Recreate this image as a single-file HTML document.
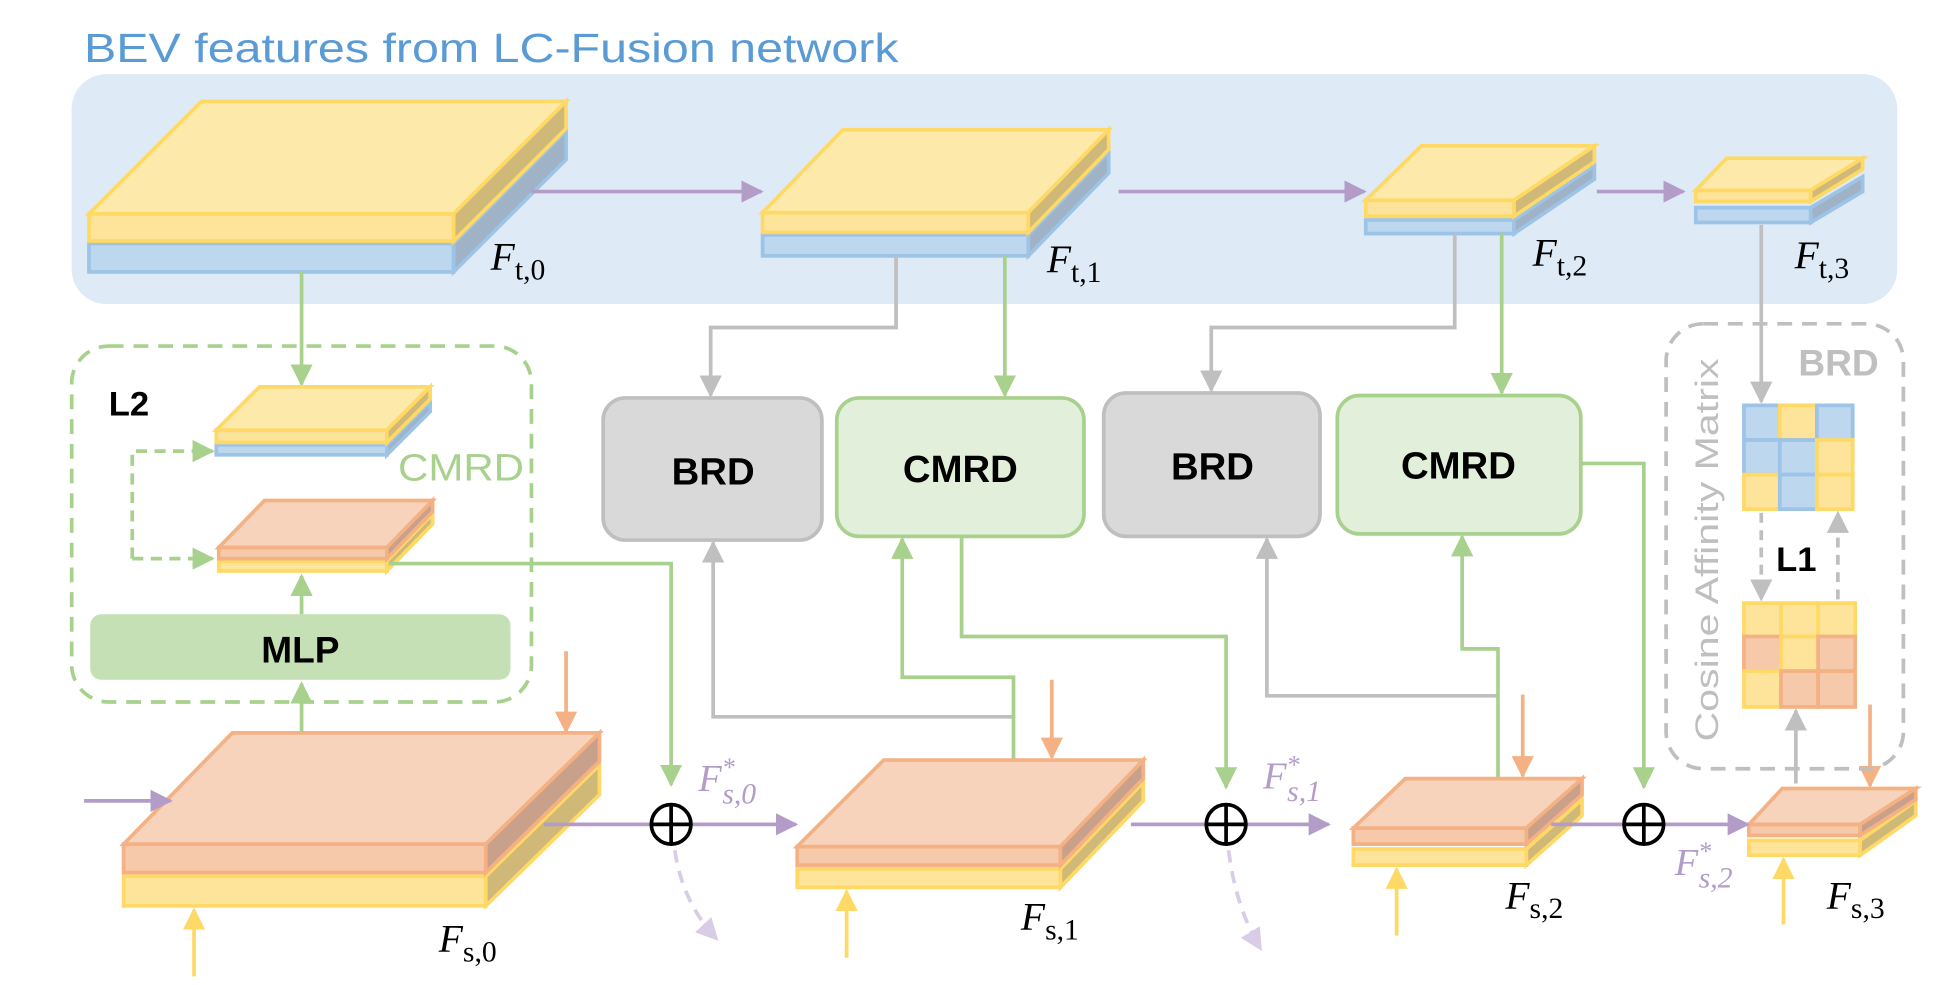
<!DOCTYPE html>
<html><head><meta charset="utf-8"><style>
html,body{margin:0;padding:0;background:#fff;width:1938px;height:985px;overflow:hidden}
svg{display:block}
.t{font-family:"Liberation Sans",sans-serif}
.s{font-family:"Liberation Serif",serif}
</style></head><body>
<svg width="1938" height="985" viewBox="0 0 1568 797" preserveAspectRatio="none" xmlns="http://www.w3.org/2000/svg">
<defs>
<marker id="ap" viewBox="0 0 10 10" refX="9" refY="5" markerWidth="6" markerHeight="6" orient="auto"><path d="M0,0L10,5L0,10z" fill="#b39dc8"/></marker>
<marker id="ag" viewBox="0 0 10 10" refX="9" refY="5" markerWidth="6" markerHeight="6" orient="auto"><path d="M0,0L10,5L0,10z" fill="#a9d18e"/></marker>
<marker id="ay" viewBox="0 0 10 10" refX="9" refY="5" markerWidth="6" markerHeight="6" orient="auto"><path d="M0,0L10,5L0,10z" fill="#ffd966"/></marker>
<marker id="ao" viewBox="0 0 10 10" refX="9" refY="5" markerWidth="6" markerHeight="6" orient="auto"><path d="M0,0L10,5L0,10z" fill="#f4b183"/></marker>
<marker id="ak" viewBox="0 0 10 10" refX="9" refY="5" markerWidth="6" markerHeight="6" orient="auto"><path d="M0,0L10,5L0,10z" fill="#bfbfbf"/></marker>
<marker id="al" viewBox="0 0 10 10" refX="9" refY="5" markerWidth="6" markerHeight="6" orient="auto"><path d="M0,0L10,5L0,10z" fill="#d9cce6"/></marker>
</defs>

<text x="68" y="50" class="t" font-size="33" fill="#5b9bd5" textLength="659" lengthAdjust="spacingAndGlyphs">BEV features from LC-Fusion network</text>
<rect x="58" y="60" width="1477" height="186" rx="28" fill="#deeaf6"/>

<g stroke-width="3" stroke-linejoin="miter">
<rect x="72" y="197" width="295" height="23" fill="#bdd7ee" stroke="#9dc3e6"/>
<polygon points="367,197 458,106 458,129 367,220" fill="#9fb2c6" stroke="#9dc3e6"/>
<rect x="72" y="173" width="295" height="22" fill="#fde49a" stroke="#ffd966"/>
<polygon points="72,173 163,82 458,82 367,173" fill="#fde9a9" stroke="#ffd966"/>
<polygon points="367,173 458,82 458,104 367,195" fill="#cfb878" stroke="#ffd966"/>
<rect x="617" y="190" width="215" height="17" fill="#bdd7ee" stroke="#9dc3e6"/>
<polygon points="832,190 897,123 897,140 832,207" fill="#9fb2c6" stroke="#9dc3e6"/>
<rect x="617" y="172" width="215" height="16" fill="#fde49a" stroke="#ffd966"/>
<polygon points="617,172 682,105 897,105 832,172" fill="#fde9a9" stroke="#ffd966"/>
<polygon points="832,172 897,105 897,121 832,188" fill="#cfb878" stroke="#ffd966"/>
<rect x="1105" y="178" width="120" height="11" fill="#bdd7ee" stroke="#9dc3e6"/>
<polygon points="1225,178 1290,134 1290,145 1225,189" fill="#9fb2c6" stroke="#9dc3e6"/>
<rect x="1105" y="162" width="120" height="13" fill="#fde49a" stroke="#ffd966"/>
<polygon points="1105,162 1150,118 1290,118 1225,162" fill="#fde9a9" stroke="#ffd966"/>
<polygon points="1225,162 1290,118 1290,131 1225,175" fill="#cfb878" stroke="#ffd966"/>
<rect x="1372" y="168" width="93" height="12" fill="#bdd7ee" stroke="#9dc3e6"/>
<polygon points="1465,168 1507,143 1507,155 1465,180" fill="#9fb2c6" stroke="#9dc3e6"/>
<rect x="1372" y="154" width="93" height="9" fill="#fde49a" stroke="#ffd966"/>
<polygon points="1372,154 1397,128 1507,128 1465,154" fill="#fde9a9" stroke="#ffd966"/>
<polygon points="1465,154 1507,128 1507,137 1465,163" fill="#cfb878" stroke="#ffd966"/>
</g>

<g class="s" font-style="italic" font-size="32" fill="#000">
<text x="397" y="218">F<tspan font-style="normal" font-size="24" dy="8">t,0</tspan></text>
<text x="847" y="220">F<tspan font-style="normal" font-size="24" dy="8">t,1</tspan></text>
<text x="1240" y="215">F<tspan font-style="normal" font-size="24" dy="8">t,2</tspan></text>
<text x="1452" y="217">F<tspan font-style="normal" font-size="24" dy="8">t,3</tspan></text>
</g>

<g stroke="#b39dc8" stroke-width="3" fill="none" marker-end="url(#ap)">
<line x1="430" y1="155" x2="616" y2="155"/>
<line x1="905" y1="155" x2="1104" y2="155"/>
<line x1="1292" y1="155" x2="1362" y2="155"/>
</g>

<rect x="58" y="280" width="372" height="288" rx="30" fill="none" stroke="#a9d18e" stroke-width="3" stroke-dasharray="12,8"/>
<text x="88" y="336" class="t" font-weight="bold" font-size="28">L2</text>
<line x1="244" y1="220" x2="244" y2="311" stroke="#a9d18e" stroke-width="3" marker-end="url(#ag)"/>
<g stroke-width="3">
<rect x="175" y="360" width="138" height="8" fill="#bdd7ee" stroke="#9dc3e6"/>
<polygon points="313,360 348,325 348,333 313,368" fill="#9fb2c6" stroke="#9dc3e6"/>
<rect x="175" y="348" width="138" height="10" fill="#fde49a" stroke="#ffd966"/>
<polygon points="175,348 210,313 348,313 313,348" fill="#fde9a9" stroke="#ffd966"/>
<polygon points="313,348 348,313 348,323 313,358" fill="#cfb878" stroke="#ffd966"/>
<rect x="177" y="454" width="136" height="8" fill="#fde49a" stroke="#ffd966"/>
<polygon points="313,454 350,416 350,424 313,462" fill="#cfb878" stroke="#ffd966"/>
<rect x="177" y="443" width="136" height="9" fill="#f6c9aa" stroke="#f4b183"/>
<polygon points="177,443 214,405 350,405 313,443" fill="#f8d3bb" stroke="#f4b183"/>
<polygon points="313,443 350,405 350,414 313,452" fill="#c9a08a" stroke="#f4b183"/>
</g>
<text x="322" y="389" class="t" font-size="31" fill="#a9d18e" textLength="102" lengthAdjust="spacingAndGlyphs">CMRD</text>
<path d="M107,452 L107,365 L172,365" fill="none" stroke="#a9d18e" stroke-width="3" stroke-dasharray="9,6" marker-end="url(#ag)"/>
<line x1="107" y1="452" x2="172" y2="452" stroke="#a9d18e" stroke-width="3" stroke-dasharray="9,6" marker-end="url(#ag)"/>
<rect x="73" y="497" width="340" height="53" rx="9" fill="#c5e0b4"/>
<text x="243" y="536" class="t" font-weight="bold" font-size="30" text-anchor="middle">MLP</text>
<line x1="244" y1="497" x2="244" y2="466" stroke="#a9d18e" stroke-width="3" marker-end="url(#ag)"/>
<line x1="244" y1="592" x2="244" y2="553" stroke="#a9d18e" stroke-width="3" marker-end="url(#ag)"/>
<path d="M315,456 L543,456 L543,635" fill="none" stroke="#a9d18e" stroke-width="3" marker-end="url(#ag)"/>

<rect x="488" y="322" width="177" height="115" rx="18" fill="#d9d9d9" stroke="#bfbfbf" stroke-width="3"/>
<text x="577" y="392" class="t" font-weight="bold" font-size="31" text-anchor="middle">BRD</text>
<rect x="677" y="322" width="200" height="112" rx="18" fill="#e2efda" stroke="#a9d18e" stroke-width="3"/>
<text x="777" y="390" class="t" font-weight="bold" font-size="31" text-anchor="middle">CMRD</text>
<rect x="893" y="318" width="175" height="116" rx="18" fill="#d9d9d9" stroke="#bfbfbf" stroke-width="3"/>
<text x="981" y="388" class="t" font-weight="bold" font-size="31" text-anchor="middle">BRD</text>
<rect x="1082" y="320" width="197" height="112" rx="18" fill="#e2efda" stroke="#a9d18e" stroke-width="3"/>
<text x="1180" y="387" class="t" font-weight="bold" font-size="31" text-anchor="middle">CMRD</text>

<g fill="none" stroke-width="3">
<path d="M725,207 L725,265 L575,265 L575,320" stroke="#bfbfbf" marker-end="url(#ak)"/>
<line x1="813" y1="207" x2="813" y2="320" stroke="#a9d18e" marker-end="url(#ag)"/>
<path d="M1177,189 L1177,265 L980,265 L980,316" stroke="#bfbfbf" marker-end="url(#ak)"/>
<line x1="1215" y1="189" x2="1215" y2="318" stroke="#a9d18e" marker-end="url(#ag)"/>
<path d="M820,580 L577,580 L577,439" stroke="#bfbfbf" marker-end="url(#ak)"/>
<path d="M820,615 L820,548 L730,548 L730,436" stroke="#a9d18e" marker-end="url(#ag)"/>
<path d="M778,434 L778,515 L992,515 L992,637" stroke="#a9d18e" marker-end="url(#ag)"/>
<path d="M1212,563 L1025,563 L1025,436" stroke="#bfbfbf" marker-end="url(#ak)"/>
<path d="M1212,630 L1212,525 L1183,525 L1183,434" stroke="#a9d18e" marker-end="url(#ag)"/>
<path d="M1279,375 L1330,375 L1330,637" stroke="#a9d18e" marker-end="url(#ag)"/>
</g>

<g stroke-width="3">
<rect x="100" y="709" width="293" height="24" fill="#fde49a" stroke="#ffd966"/>
<polygon points="393,709 485,619 485,643 393,733" fill="#cfb878" stroke="#ffd966"/>
<rect x="100" y="683" width="293" height="23" fill="#f6c9aa" stroke="#f4b183"/>
<polygon points="100,683 188,593 485,593 393,683" fill="#f8d3bb" stroke="#f4b183"/>
<polygon points="393,683 485,593 485,616 393,706" fill="#c9a08a" stroke="#f4b183"/>
<rect x="645" y="703" width="213" height="15" fill="#fde49a" stroke="#ffd966"/>
<polygon points="858,703 925,633 925,648 858,718" fill="#cfb878" stroke="#ffd966"/>
<rect x="645" y="685" width="213" height="15" fill="#f6c9aa" stroke="#f4b183"/>
<polygon points="645,685 715,615 925,615 858,685" fill="#f8d3bb" stroke="#f4b183"/>
<polygon points="858,685 925,615 925,630 858,700" fill="#c9a08a" stroke="#f4b183"/>
<rect x="1095" y="687" width="140" height="13" fill="#fde49a" stroke="#ffd966"/>
<polygon points="1235,687 1280,647 1280,660 1235,700" fill="#cfb878" stroke="#ffd966"/>
<rect x="1095" y="670" width="140" height="13" fill="#f6c9aa" stroke="#f4b183"/>
<polygon points="1095,670 1137,630 1280,630 1235,670" fill="#f8d3bb" stroke="#f4b183"/>
<polygon points="1235,670 1280,630 1280,643 1235,683" fill="#c9a08a" stroke="#f4b183"/>
<rect x="1415" y="680" width="90" height="12" fill="#fde49a" stroke="#ffd966"/>
<polygon points="1505,680 1550,648 1550,660 1505,692" fill="#cfb878" stroke="#ffd966"/>
<rect x="1415" y="667" width="90" height="9" fill="#f6c9aa" stroke="#f4b183"/>
<polygon points="1415,667 1442,638 1550,638 1505,667" fill="#f8d3bb" stroke="#f4b183"/>
<polygon points="1505,667 1550,638 1550,647 1505,676" fill="#c9a08a" stroke="#f4b183"/>
</g>

<g stroke-width="3" fill="none">
<line x1="68" y1="648" x2="138" y2="648" stroke="#b39dc8" marker-end="url(#ap)"/>
<line x1="440" y1="667" x2="526" y2="667" stroke="#b39dc8"/>
<line x1="560" y1="667" x2="644" y2="667" stroke="#b39dc8" marker-end="url(#ap)"/>
<line x1="915" y1="667" x2="975" y2="667" stroke="#b39dc8"/>
<line x1="1009" y1="667" x2="1075" y2="667" stroke="#b39dc8" marker-end="url(#ap)"/>
<line x1="1255" y1="667" x2="1313" y2="667" stroke="#b39dc8"/>
<line x1="1347" y1="667" x2="1414" y2="667" stroke="#b39dc8" marker-end="url(#ap)"/>
<line x1="458" y1="527" x2="458" y2="592" stroke="#f4b183" marker-end="url(#ao)"/>
<line x1="851" y1="550" x2="851" y2="613" stroke="#f4b183" marker-end="url(#ao)"/>
<line x1="1232" y1="562" x2="1232" y2="628" stroke="#f4b183" marker-end="url(#ao)"/>
<line x1="1513" y1="570" x2="1513" y2="636" stroke="#f4b183" marker-end="url(#ao)"/>
<line x1="157" y1="790" x2="157" y2="736" stroke="#ffd966" marker-end="url(#ay)"/>
<line x1="685" y1="775" x2="685" y2="721" stroke="#ffd966" marker-end="url(#ay)"/>
<line x1="1130" y1="757" x2="1130" y2="703" stroke="#ffd966" marker-end="url(#ay)"/>
<line x1="1443" y1="748" x2="1443" y2="695" stroke="#ffd966" marker-end="url(#ay)"/>
<path d="M546,688 Q552,730 580,760" stroke="#d9cce6" stroke-dasharray="10,7" marker-end="url(#al)"/>
<path d="M994,688 Q1000,735 1020,768" stroke="#d9cce6" stroke-dasharray="10,7" marker-end="url(#al)"/>
</g>
<g fill="none" stroke="#000" stroke-width="3">
<circle cx="543" cy="667" r="16"/><path d="M527,667H559M543,651V683"/>
<circle cx="992" cy="667" r="16"/><path d="M976,667H1008M992,651V683"/>
<circle cx="1330" cy="667" r="16"/><path d="M1314,667H1346M1330,651V683"/>
</g>
<g class="s" font-style="italic" font-size="31" fill="#b39dc8">
<text x="565" y="640">F<tspan font-size="21" dy="-12">*</tspan><tspan font-size="24" dx="-10" dy="22">s,0</tspan></text>
<text x="1022" y="638">F<tspan font-size="21" dy="-12">*</tspan><tspan font-size="24" dx="-10" dy="22">s,1</tspan></text>
<text x="1355" y="708">F<tspan font-size="21" dy="-12">*</tspan><tspan font-size="24" dx="-10" dy="22">s,2</tspan></text>
</g>
<g class="s" font-style="italic" font-size="32" fill="#000">
<text x="355" y="770">F<tspan font-style="normal" font-size="24" dy="8">s,0</tspan></text>
<text x="826" y="752">F<tspan font-style="normal" font-size="24" dy="8">s,1</tspan></text>
<text x="1218" y="735">F<tspan font-style="normal" font-size="24" dy="8">s,2</tspan></text>
<text x="1478" y="735">F<tspan font-style="normal" font-size="24" dy="8">s,3</tspan></text>
</g>

<rect x="1348" y="262" width="192" height="360" rx="30" fill="none" stroke="#bfbfbf" stroke-width="3" stroke-dasharray="12,8"/>
<text x="1455" y="304" class="t" font-weight="bold" font-size="30" fill="#bfbfbf">BRD</text>
<text transform="translate(1390,445) rotate(-90)" class="t" font-size="26" fill="#bfbfbf" text-anchor="middle" textLength="310" lengthAdjust="spacingAndGlyphs">Cosine Affinity Matrix</text>
<g stroke-width="3">
<rect x="1411" y="328" width="29" height="28" fill="#bdd7ee" stroke="#9dc3e6"/>
<rect x="1440" y="328" width="30" height="28" fill="#fde49a" stroke="#ffd966"/>
<rect x="1470" y="328" width="29" height="28" fill="#bdd7ee" stroke="#9dc3e6"/>
<rect x="1411" y="356" width="29" height="28" fill="#bdd7ee" stroke="#9dc3e6"/>
<rect x="1440" y="356" width="30" height="28" fill="#bdd7ee" stroke="#9dc3e6"/>
<rect x="1470" y="356" width="29" height="28" fill="#fde49a" stroke="#ffd966"/>
<rect x="1411" y="384" width="29" height="28" fill="#fde49a" stroke="#ffd966"/>
<rect x="1440" y="384" width="30" height="28" fill="#bdd7ee" stroke="#9dc3e6"/>
<rect x="1470" y="384" width="29" height="28" fill="#fde49a" stroke="#ffd966"/>
<rect x="1411" y="488" width="30" height="27" fill="#fde49a" stroke="#ffd966"/>
<rect x="1441" y="488" width="30" height="27" fill="#fde49a" stroke="#ffd966"/>
<rect x="1471" y="488" width="30" height="27" fill="#fde49a" stroke="#ffd966"/>
<rect x="1411" y="515" width="30" height="28" fill="#f6c9aa" stroke="#f4b183"/>
<rect x="1441" y="515" width="30" height="28" fill="#fde49a" stroke="#ffd966"/>
<rect x="1471" y="515" width="30" height="28" fill="#f6c9aa" stroke="#f4b183"/>
<rect x="1411" y="543" width="30" height="29" fill="#fde49a" stroke="#ffd966"/>
<rect x="1441" y="543" width="30" height="29" fill="#f6c9aa" stroke="#f4b183"/>
<rect x="1471" y="543" width="30" height="29" fill="#f6c9aa" stroke="#f4b183"/>
</g>
<g stroke="#bfbfbf" stroke-width="3" fill="none">
<line x1="1425" y1="182" x2="1425" y2="325" marker-end="url(#ak)"/>
<line x1="1425" y1="415" x2="1425" y2="485" stroke-dasharray="8,6" marker-end="url(#ak)"/>
<line x1="1487" y1="485" x2="1487" y2="415" stroke-dasharray="8,6" marker-end="url(#ak)"/>
<line x1="1453" y1="634" x2="1453" y2="575" marker-end="url(#ak)"/>
</g>
<text x="1437" y="462" class="t" font-weight="bold" font-size="28">L1</text>
</svg>
</body></html>
